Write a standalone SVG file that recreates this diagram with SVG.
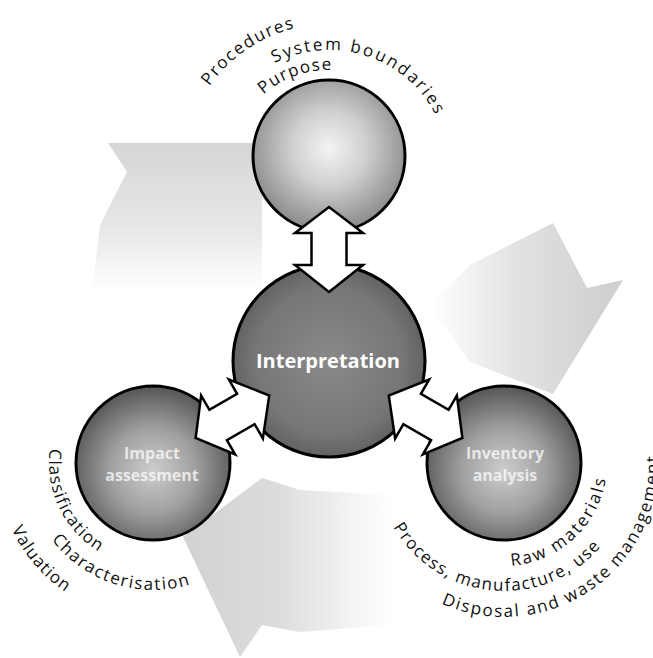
<svg xmlns="http://www.w3.org/2000/svg" width="653" height="658" viewBox="0 0 653 658">
  <style>
    .lbl { font-family: "Open Sans", "Liberation Sans", sans-serif; font-size: 17px; fill: #111; }
    .node { stroke: #000; stroke-width: 3; }
    .inner { font-family: "Open Sans", "Liberation Sans", sans-serif; font-weight: bold; fill: #fff; text-anchor: middle; }
    .faint { opacity: 0.72; }
    .darr { fill: #fff; stroke: #000; stroke-width: 2.5; stroke-linejoin: miter; }
  </style>
  <defs>
    <radialGradient id="gTop" cx="0.5" cy="0.45" r="0.55">
      <stop offset="0" stop-color="#f4f4f4"/>
      <stop offset="0.45" stop-color="#cfcfcf"/>
      <stop offset="1" stop-color="#8a8a8a"/>
    </radialGradient>
    <radialGradient id="gSide" cx="0.5" cy="0.55" r="0.55">
      <stop offset="0" stop-color="#cdcdcd"/>
      <stop offset="0.5" stop-color="#a0a0a0"/>
      <stop offset="1" stop-color="#555"/>
    </radialGradient>
    <radialGradient id="gMid" cx="0.5" cy="0.5" r="0.55">
      <stop offset="0" stop-color="#8a8a8a"/>
      <stop offset="0.7" stop-color="#767676"/>
      <stop offset="1" stop-color="#5a5a5a"/>
    </radialGradient>
    <linearGradient id="bgTL" x1="0" y1="0" x2="0" y2="1">
      <stop offset="0" stop-color="#d6d6d6"/>
      <stop offset="0.55" stop-color="#e6e6e6"/>
      <stop offset="1" stop-color="#fff"/>
    </linearGradient>
    <linearGradient id="bgR" x1="0" y1="0" x2="1" y2="0">
      <stop offset="0" stop-color="#fff"/>
      <stop offset="0.45" stop-color="#e2e2e2"/>
      <stop offset="1" stop-color="#cdcdcd"/>
    </linearGradient>
    <linearGradient id="bgB" x1="0" y1="0" x2="1" y2="0">
      <stop offset="0" stop-color="#d2d2d2"/>
      <stop offset="0.45" stop-color="#dcdcdc"/>
      <stop offset="1" stop-color="#fff"/>
    </linearGradient>
    <path id="pPurpose" d="M263.4,94.5 A100,100 0 0 1 427.2,150.9"/>
    <path id="pSystem" d="M274.5,63.1 A120,120 0 0 1 449,170"/>
    <path id="pProc" d="M209.4,86.3 A146,146 0 0 1 440.8,76.2"/>
    <path id="pClass" d="M50,448.5 A104,104 0 0 0 205,553.1"/>
    <path id="pChar" d="M51.6,539.4 A127,127 0 0 0 272.3,506.4"/>
    <path id="pVal" d="M11.6,528.9 A156,156 0 0 0 153,619"/>
    <path id="pRaw" d="M511.2,565.8 A103,103 0 0 0 593.2,411.5"/>
    <path id="pProcess" d="M393.2,527 A128,128 0 0 0 624.3,506.8"/>
    <path id="pDisp" d="M441.4,603.7 A154,154 0 0 0 648.7,410.3"/>
  </defs>

  <rect width="653" height="658" fill="#fff"/>

  <g id="background">
    <polygon points="108,143 262,143 262,292 92,292 100,225 127,172" fill="url(#bgTL)"/>
    <polygon points="553,223 587,288 623,280 553,394 470,362 430,305 470,265" fill="url(#bgR)"/>
    <polygon points="262,478 183,537 240,657 262,625 300,632 390,625 390,495 300,490" fill="url(#bgB)"/>
  </g>

  <g id="node-goal">
    <circle class="node" cx="329" cy="156" r="76" fill="url(#gTop)"/>
  </g>
  <g id="node-interpretation">
    <circle class="node" cx="329" cy="361" r="96" fill="url(#gMid)"/>
    <text class="inner" x="328" y="368" font-size="20">Interpretation</text>
  </g>
  <g id="node-impact">
    <circle class="node" cx="153" cy="463" r="77" fill="url(#gSide)"/>
    <text class="inner faint" x="152" y="459" font-size="16">Impact</text>
    <text class="inner faint" x="152" y="481" font-size="16">assessment</text>
  </g>
  <g id="node-inventory">
    <circle class="node" cx="504" cy="463" r="77" fill="url(#gSide)"/>
    <text class="inner faint" x="505" y="459" font-size="16">Inventory</text>
    <text class="inner faint" x="505" y="481" font-size="16">analysis</text>
  </g>

  <g id="connectors">
    <polygon class="darr" transform="translate(329,361)" points="0,-69 34,-96 17.5,-96 17.5,-128 34,-128 0,-154 -34,-128 -17.5,-128 -17.5,-96 -34,-96"/>
    <polygon class="darr" transform="translate(329,361) rotate(-120)" points="0,-69 34,-96 17.5,-96 17.5,-128 34,-128 0,-154 -34,-128 -17.5,-128 -17.5,-96 -34,-96"/>
    <polygon class="darr" transform="translate(329,361) rotate(120)" points="0,-69 34,-96 17.5,-96 17.5,-128 34,-128 0,-154 -34,-128 -17.5,-128 -17.5,-96 -34,-96"/>
  </g>

  <g id="labels">
    <text class="lbl" letter-spacing="1.3"><textPath href="#pPurpose">Purpose</textPath></text>
    <text class="lbl" letter-spacing="2.2"><textPath href="#pSystem">System boundaries</textPath></text>
    <text class="lbl" letter-spacing="1.6"><textPath href="#pProc">Procedures</textPath></text>
    <text class="lbl" letter-spacing="1.3"><textPath href="#pClass">Classification</textPath></text>
    <text class="lbl" letter-spacing="1.6"><textPath href="#pChar">Characterisation</textPath></text>
    <text class="lbl" letter-spacing="1.1"><textPath href="#pVal">Valuation</textPath></text>
    <text class="lbl" letter-spacing="2.2"><textPath href="#pRaw">Raw materials</textPath></text>
    <text class="lbl" letter-spacing="1.4"><textPath href="#pProcess">Process, manufacture, use</textPath></text>
    <text class="lbl" letter-spacing="1.8"><textPath href="#pDisp">Disposal and waste management</textPath></text>
  </g>
</svg>
